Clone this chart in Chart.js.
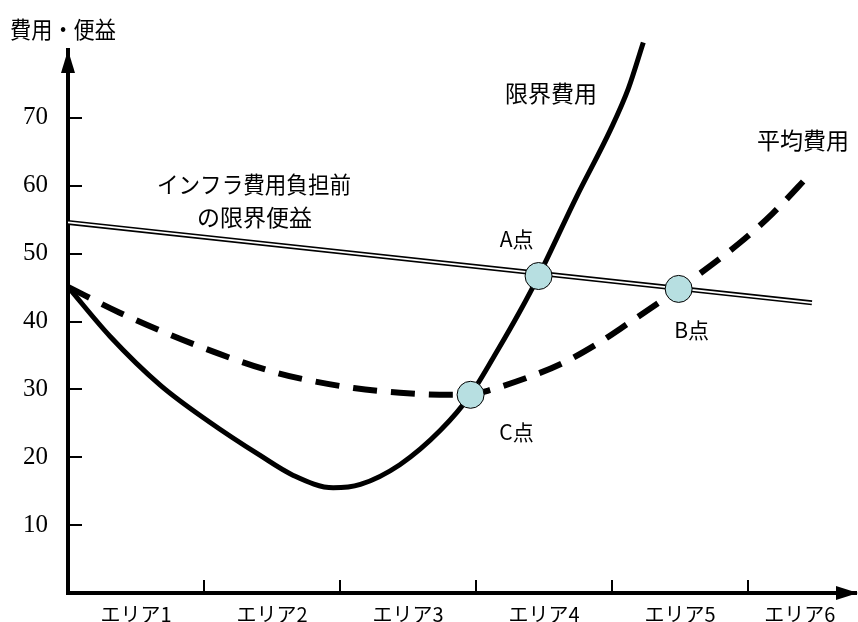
<!DOCTYPE html>
<html><head><meta charset="utf-8">
<script src="https://cdn.jsdelivr.net/npm/chart.js@4"></script>
<style>html,body{margin:0;padding:0;background:#fff}canvas{display:block}</style>
</head><body>
<div style="width:858px;height:622px"><canvas id="c" width="858" height="622"></canvas></div>
<script>
// ---- data ----
const xLabels = ['エリア1','エリア2','エリア3','エリア4','エリア5','エリア6'];
const xLabelPos = [0.5, 1.5, 2.5, 3.5, 4.5, 5.38];
const xTickMarks = [1, 2, 3, 4, 5];
const yTicks = [10, 20, 30, 40, 50, 60, 70];

const benefitX = [0, 5.47];
const benefitY = [54.6, 42.75];

const mcX = [0, 0.31, 0.68, 1.04, 1.41, 1.65, 1.95, 2.15, 2.44, 2.74, 2.96, 3.16, 3.32, 3.46, 3.74, 3.99, 4.12, 4.23];
const mcY = [45.1, 37.8, 30.6, 25.2, 20.3, 17.4, 15.5, 16.0, 18.9, 24.0, 29.2, 35.8, 41.4, 46.7, 58.4, 68.3, 74.3, 81.1];

const acX = [0, 0.38, 0.97, 1.54, 1.83, 2.10, 2.44, 2.81, 2.96, 3.10, 3.40, 3.64, 3.89, 4.11, 4.49, 4.94, 5.18, 5.46];
const acY = [45.1, 41.3, 36.3, 32.4, 31.1, 30.2, 29.5, 29.2, 29.2, 29.9, 31.9, 33.9, 36.7, 39.6, 44.8, 51.6, 55.9, 61.8];

const pointNames = ['A点', 'B点', 'C点'];
const pointX = [3.46, 4.49, 2.96];
const pointY = [46.7, 44.8, 29.2];

const zip = (xs, ys) => xs.map((v, i) => ({x: v, y: ys[i]}));

const FONT = "'Noto Sans CJK JP', 'Noto Sans', sans-serif";
Chart.defaults.font.family = FONT;
Chart.defaults.color = '#000';

const overlay = {
  id: 'overlay',
  afterDraw(chart) {
    const {ctx, chartArea: a, scales: {x, y}} = chart;
    ctx.save();
    ctx.strokeStyle = '#000';
    ctx.fillStyle = '#000';
    ctx.lineWidth = 2;
    // inner tick marks
    yTicks.forEach(v => {
      const py = Math.round(y.getPixelForValue(v));
      ctx.beginPath(); ctx.moveTo(a.left, py); ctx.lineTo(a.left + 14, py); ctx.stroke();
    });
    xTickMarks.forEach(v => {
      const px = Math.round(x.getPixelForValue(v));
      ctx.beginPath(); ctx.moveTo(px, a.bottom); ctx.lineTo(px, a.bottom - 13); ctx.stroke();
    });
    // arrow heads
    ctx.beginPath();
    ctx.moveTo(a.left, a.top);
    ctx.lineTo(a.left - 7, a.top + 23);
    ctx.lineTo(a.left + 7, a.top + 23);
    ctx.closePath(); ctx.fill();
    ctx.beginPath();
    ctx.moveTo(a.right + 2, a.bottom);
    ctx.lineTo(a.right - 20, a.bottom - 7);
    ctx.lineTo(a.right - 20, a.bottom + 7);
    ctx.closePath(); ctx.fill();

    // texts
    ctx.textBaseline = 'middle';
    ctx.font = '23px ' + FONT;
    ctx.textAlign = 'left';
    ctx.fillText('費用・便益', 10, 29, 106);
    ctx.textAlign = 'center';
    ctx.fillText('限界費用', 551, 93);
    ctx.fillText('平均費用', 803, 140);
    ctx.textAlign = 'left';
    ctx.fillText('インフラ費用負担前', 157, 184, 194);
    ctx.fillText('の限界便益', 197, 217, 126);

    ctx.font = '21px ' + FONT;
    ctx.textAlign = 'center';
    const offs = [[-22, -37], [13, 41], [46, 37]];
    pointNames.forEach((n, i) => {
      const px = x.getPixelForValue(pointX[i]);
      const py = y.getPixelForValue(pointY[i]);
      ctx.fillText(n, px + offs[i][0], py + offs[i][1]);
    });
    ctx.restore();
  }
};

new Chart(document.getElementById('c'), {
  type: 'line',
  data: {
    datasets: [
      { data: zip(pointX, pointY), showLine: false, pointRadius: 13.5, pointBackgroundColor: '#b7dfe1',
        pointBorderColor: '#000', pointBorderWidth: 1, order: 0 },
      { data: zip(benefitX, benefitY), borderColor: '#fff', borderWidth: 1.8, pointRadius: 0, order: 1 },
      { data: zip(benefitX, benefitY), borderColor: '#000', borderWidth: 5, pointRadius: 0, order: 2 },
      { data: zip(mcX, mcY), borderColor: '#000', borderWidth: 5, pointRadius: 0,
        cubicInterpolationMode: 'monotone', clip: false, order: 3 },
      { data: zip(acX, acY), borderColor: '#000', borderWidth: 6, pointRadius: 0, borderDash: [24, 14],
        borderCapStyle: 'butt', cubicInterpolationMode: 'monotone', clip: false, order: 4 }
    ]
  },
  options: {
    responsive: false,
    animation: false,
    devicePixelRatio: 1,
    layout: { autoPadding: false, padding: { top: 50, right: 2, left: 0, bottom: 0 } },
    plugins: { legend: { display: false }, tooltip: { enabled: false } },
    scales: {
      x: {
        type: 'linear', min: 0, max: 5.794,
        grid: { display: false, drawTicks: false },
        border: { display: true, color: '#000', width: 4 },
        afterBuildTicks: s => { s.ticks = xLabelPos.map(v => ({value: v})); },
        afterFit: s => { s.height = 29; s.paddingLeft = 0; s.paddingRight = 0; },
        ticks: { autoSkip: false, maxRotation: 0, padding: 9, font: { size: 20, family: FONT }, color: '#000',
          callback: (v, i) => xLabels[i] }
      },
      y: {
        type: 'linear', min: 0, max: 80,
        grid: { display: false, drawTicks: false },
        border: { display: true, color: '#000', width: 4 },
        afterBuildTicks: s => { s.ticks = yTicks.map(v => ({value: v})); },
        afterFit: s => { s.width = 68; s.paddingTop = 0; s.paddingBottom = 0; },
        ticks: { padding: 20, font: { size: 25, family: "'Liberation Serif', serif" }, color: '#000' }
      }
    }
  },
  plugins: [overlay]
});
</script>
</body></html>
